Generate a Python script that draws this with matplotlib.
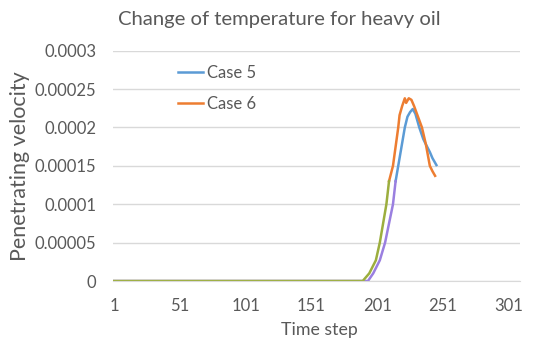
import matplotlib.pyplot as plt

# --- Data ---
title = "Change of temperature for heavy oil"
x_ticks = [1, 51, 101, 151, 201, 251, 301]
y_ticks = [0, 0.00005, 0.0001, 0.00015, 0.0002, 0.00025, 0.0003]
y_tick_labels = ["0", "0.00005", "0.0001", "0.00015", "0.0002", "0.00025", "0.0003"]

# Case 5 (blue), upper part of the curve
case5_x = [215, 217, 219, 222, 224, 226, 228, 230, 233, 236, 238, 241, 243, 246]
case5_y = [0.000130, 0.000150, 0.000170, 0.000200, 0.000214, 0.000220, 0.000224,
           0.000218, 0.000200, 0.000185, 0.000178, 0.000168, 0.000160, 0.000151]

# Case 6 (orange), upper part of the curve
case6_x = [210, 213, 217, 218, 220, 222, 223, 225, 227, 229, 232, 235, 238, 241, 243, 245]
case6_y = [0.000130, 0.000150, 0.000200, 0.000216, 0.000228, 0.000238, 0.000232,
           0.000238, 0.000236, 0.000228, 0.000214, 0.000200, 0.000178, 0.000150,
           0.000143, 0.000137]

# lower parts drawn in other colours in the original (hidden series)
low6_x = [1, 190, 195, 200, 203, 206, 208, 210]
low6_y = [0, 0, 0.000010, 0.000027, 0.000050, 0.000080, 0.000100, 0.000130]
low5_x = [1, 194, 198, 203, 207, 210, 213, 215]
low5_y = [0, 0, 0.000010, 0.000027, 0.000050, 0.000075, 0.000100, 0.000130]

text_col = '#595959'
grid_col = '#D9D9D9'

plt.rcParams['font.family'] = ['Lato', 'DejaVu Sans']

fig = plt.figure(figsize=(5.5, 3.55), dpi=100)
ax = fig.add_axes([113 / 550, 1 - 281 / 355, (520 - 113) / 550, (281 - 50.7) / 355])

l5, = ax.plot(case5_x, case5_y, color='#5B9BD5', lw=1.8, label='Case 5')
l6, = ax.plot(case6_x, case6_y, color='#ED7D31', lw=1.8, label='Case 6')
ax.plot(low5_x, low5_y, color='#9A7FE0', lw=1.8)
ax.plot(low6_x, low6_y, color='#9CAE3E', lw=1.8)

ax.set_xlim(0.3, 309.5)
ax.set_ylim(0, 0.0003)
ax.set_xticks(x_ticks)
ax.set_yticks(y_ticks)
ax.set_yticklabels(y_tick_labels)
ax.tick_params(axis='both', length=0, labelsize=12, colors=text_col)
ax.tick_params(axis='y', pad=12)
ax.tick_params(axis='x', pad=12)

ax.grid(axis='y', color=grid_col, lw=1)
ax.set_axisbelow(True)
for s in ['top', 'right', 'left']:
    ax.spines[s].set_visible(False)
ax.spines['bottom'].set_color(grid_col)

fig.text(279 / 550, 1 - 20 / 355, title, ha='center', va='center', fontsize=14.6, color=text_col)
fig.text(20 / 550, 1 - 166 / 355, "Penetrating velocity", rotation=90, ha='center', va='center',
         fontsize=15.5, color=text_col)
fig.text(319 / 550, 1 - 330 / 355, "Time step", ha='center', va='center', fontsize=12.8, color=text_col)

ax.legend(handles=[l5, l6], loc='upper left', bbox_to_anchor=(178 / 550, 1 - 65 / 355),
          bbox_transform=fig.transFigure, frameon=False, fontsize=12, labelcolor=text_col,
          handlelength=1.5, handletextpad=0.25, labelspacing=0.9, borderpad=0, borderaxespad=0)

fig.savefig('out.png', dpi=100)
